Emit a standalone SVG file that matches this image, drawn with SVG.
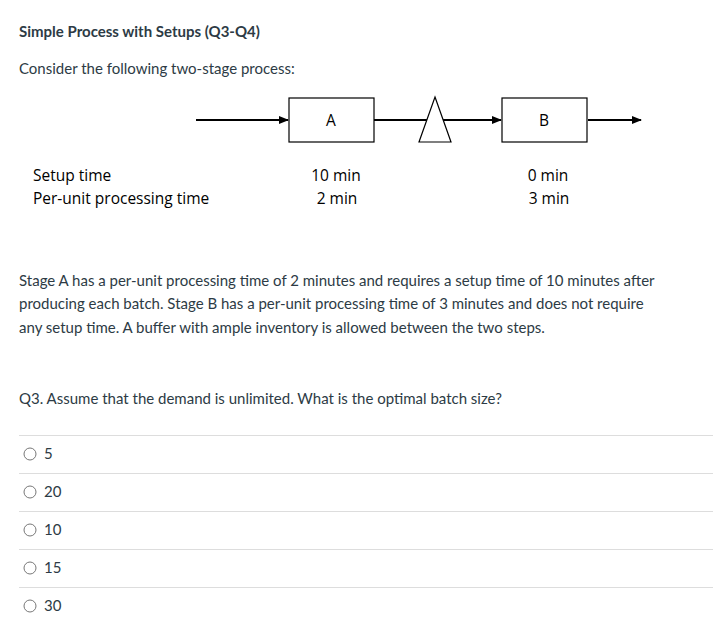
<svg xmlns="http://www.w3.org/2000/svg" width="718" height="631" viewBox="0 0 718 631">
<style>
.t{font-family:Lato,"Liberation Sans",sans-serif;font-size:15px;fill:#2d3b45}
.d{font-family:"Open Sans","Liberation Sans",sans-serif;font-size:15.5px;fill:#000}
.box{fill:#fff;stroke:#000;stroke-width:1.2}
.ln{stroke:#000;stroke-width:2;fill:none}
.sep{stroke:#ddd;stroke-width:1}
.r{fill:#fff;stroke:#777;stroke-width:1}
</style>
<defs><marker id="ah" markerWidth="10" markerHeight="8" refX="9" refY="4" orient="auto" markerUnits="userSpaceOnUse"><path d="M0,0 L10,4 L0,8 Z" fill="#000"/></marker></defs>
<rect width="718" height="631" fill="#fff"/>
<text class="t" x="19" y="37" font-weight="bold">Simple Process with Setups (Q3-Q4)</text>
<text class="t" x="19" y="74">Consider the following two-stage process:</text>
<g id="connectors">
<line class="ln" x1="196" y1="120" x2="288" y2="120" marker-end="url(#ah)"/>
<line class="ln" x1="374" y1="120" x2="501" y2="120" marker-end="url(#ah)"/>
<line class="ln" x1="588" y1="120" x2="641" y2="120" marker-end="url(#ah)"/>
</g>
<g id="A"><rect class="box" x="289" y="98" width="85" height="44"/><text class="d" x="331" y="126" text-anchor="middle">A</text></g>
<g id="buffer"><polygon class="box" points="435,97 451,142 419,142"/></g>
<g id="B"><rect class="box" x="502" y="98" width="85" height="44"/><text class="d" x="544" y="126" text-anchor="middle">B</text></g>
<text class="d" x="33" y="181">Setup time</text>
<text class="d" x="33" y="204">Per-unit processing time</text>
<text class="d" x="336" y="181" text-anchor="middle">10 min</text>
<text class="d" x="337" y="204" text-anchor="middle">2 min</text>
<text class="d" x="548" y="181" text-anchor="middle">0 min</text>
<text class="d" x="549" y="204" text-anchor="middle">3 min</text>
<text class="t" x="19" y="286">Stage A has a per-unit processing time of 2 minutes and requires a setup time of 10 minutes after</text>
<text class="t" x="19" y="309">producing each batch. Stage B has a per-unit processing time of 3 minutes and does not require</text>
<text class="t" x="19" y="333">any setup time. A buffer with ample inventory is allowed between the two steps.</text>
<text class="t" x="19" y="404">Q3. Assume that the demand is unlimited. What is the optimal batch size?</text>
<line class="sep" x1="19" y1="435.5" x2="713" y2="435.5"/>
<line class="sep" x1="19" y1="473.5" x2="713" y2="473.5"/>
<line class="sep" x1="19" y1="511.5" x2="713" y2="511.5"/>
<line class="sep" x1="19" y1="549.5" x2="713" y2="549.5"/>
<line class="sep" x1="19" y1="587.5" x2="713" y2="587.5"/>
<circle class="r" cx="30" cy="454" r="6"/><text class="t" x="44" y="459" font-size="14">5</text>
<circle class="r" cx="30" cy="492" r="6"/><text class="t" x="44" y="497" font-size="14">20</text>
<circle class="r" cx="30" cy="530" r="6"/><text class="t" x="44" y="535" font-size="14">10</text>
<circle class="r" cx="30" cy="568" r="6"/><text class="t" x="44" y="573" font-size="14">15</text>
<circle class="r" cx="30" cy="606" r="6"/><text class="t" x="44" y="611" font-size="14">30</text>
</svg>
